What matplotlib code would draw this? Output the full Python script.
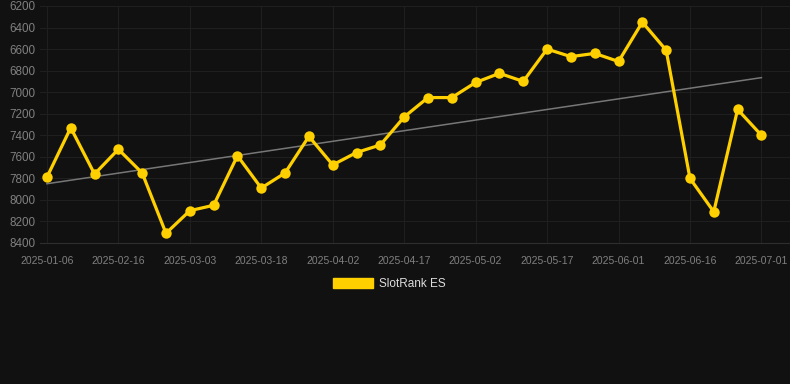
import matplotlib
matplotlib.use("Agg")
import matplotlib.pyplot as plt
from matplotlib.patches import Patch

plt.rcParams["font.family"] = ["Liberation Sans", "DejaVu Sans"]

# weekly-ish rank snapshots (lower is better, axis inverted)
dates = [
    "2025-01-06", "2025-01-20", "2025-02-03", "2025-02-16", "2025-02-21",
    "2025-02-26", "2025-03-03", "2025-03-08", "2025-03-13", "2025-03-18",
    "2025-03-23", "2025-03-28", "2025-04-02", "2025-04-07", "2025-04-12",
    "2025-04-17", "2025-04-22", "2025-04-27", "2025-05-02", "2025-05-07",
    "2025-05-12", "2025-05-17", "2025-05-22", "2025-05-27", "2025-06-01",
    "2025-06-06", "2025-06-11", "2025-06-16", "2025-06-21", "2025-06-26",
    "2025-07-01",
]
rank = [
    7790, 7330, 7760, 7530, 7750, 8310, 8100, 8050, 7590, 7890,
    7750, 7410, 7675, 7560, 7490, 7230, 7050, 7050, 6910, 6825,
    6900, 6600, 6670, 6640, 6715, 6350, 6610, 7800, 8110, 7160,
    7400,
]
trend_ends = [7850, 6865]
series_name = "SlotRank ES"

BG = "#111111"
GOLD = "#FFD000"

fig = plt.figure(figsize=(7.9, 3.84), dpi=100, facecolor=BG)
ax = fig.add_axes([40 / 790, 1 - 243 / 384, 750 / 790, 237 / 384], facecolor=BG)

x = list(range(len(dates)))
ax.plot([x[0], x[-1]], trend_ends, color="#777777", linewidth=1.1, zorder=2)
ax.plot(x, rank, color=GOLD, linewidth=2.3, marker="o", markersize=7.5,
        markeredgewidth=0, zorder=3)

ax.set_xlim(-0.29, 31.2)
ax.set_ylim(8400, 6200)
ax.set_yticks(range(6200, 8401, 200))
ax.set_xticks(x[::3])
ax.set_xticklabels(dates[::3])

ax.grid(True, color="#1f1f1f", linewidth=0.8)
ax.set_axisbelow(True)
for side in ("top", "right", "left"):
    ax.spines[side].set_visible(False)
ax.spines["bottom"].set_color("#2e2e2e")
ax.tick_params(axis="y", length=0, pad=3.5, labelsize=8.4, labelcolor="#808080")
ax.tick_params(axis="x", length=0, pad=9, labelsize=7.5, labelcolor="#808080")

handle = Patch(facecolor=GOLD, edgecolor=GOLD, label=series_name)
fig.legend(handles=[handle], loc="center", bbox_to_anchor=(389 / 790, 1 - 284 / 384),
           frameon=False, fontsize=8.5, labelcolor="#dddddd",
           handlelength=3.4, handleheight=1.0, handletextpad=0.5)

fig.savefig("out.png", dpi=100, facecolor=BG)
